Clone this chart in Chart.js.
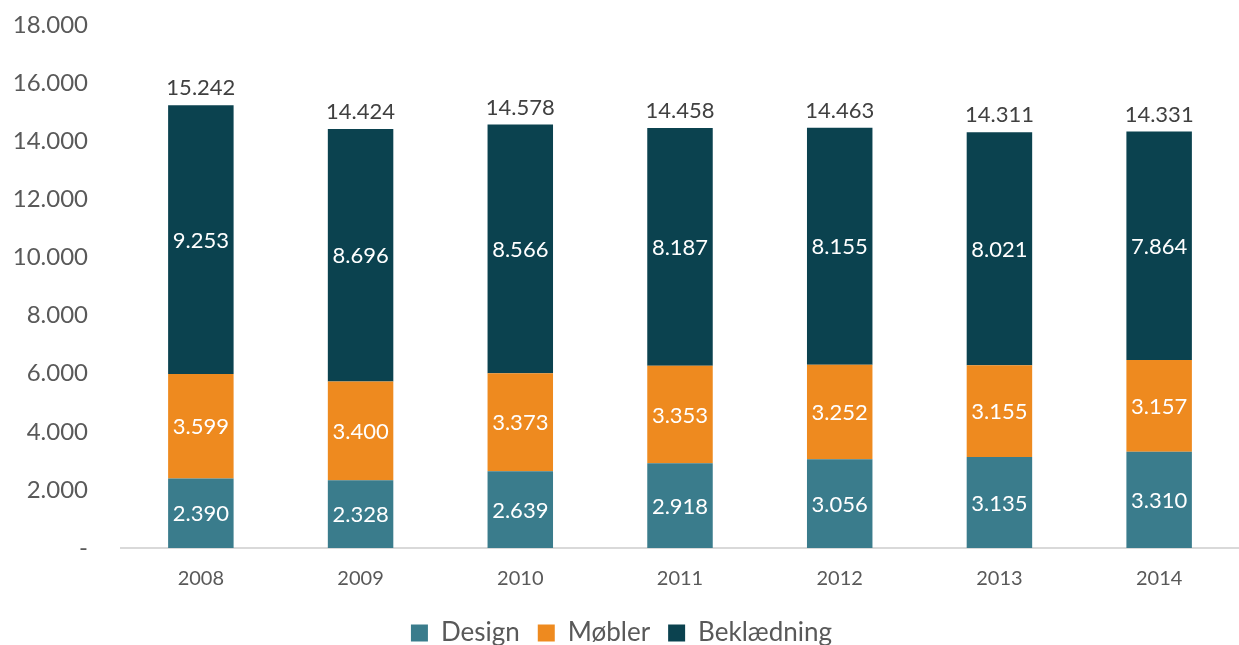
<!DOCTYPE html>
<html>
<head>
<meta charset="utf-8">
<script src="https://cdn.jsdelivr.net/npm/chart.js@4"></script>
<style>
  html, body { margin: 0; padding: 0; overflow: hidden; background: #fff; }
  #wrap { width: 1239px; height: 656px; }
</style>
</head>
<body>
<div id="wrap"><canvas id="chart"></canvas></div>
<script>
// data
const years = ['2008', '2009', '2010', '2011', '2012', '2013', '2014'];
const design = [2390, 2328, 2639, 2918, 3056, 3135, 3310];
const moebler = [3599, 3400, 3373, 3353, 3252, 3155, 3157];
const beklaedning = [9253, 8696, 8566, 8187, 8155, 8021, 7864];
const totals = [15242, 14424, 14578, 14458, 14463, 14311, 14331];

function fmt(v) {
    return v.toString().replace(/\B(?=(\d{3})+(?!\d))/g, '.');
}

// labels inside the segments and totals on top
const valueLabels = {
    id: 'valueLabels',
    afterDatasetsDraw(chart) {
        const ctx = chart.ctx;
        ctx.save();
        ctx.textAlign = 'center';
        ctx.textBaseline = 'middle';
        ctx.font = '22px Lato';
        ctx.fillStyle = '#ffffff';
        chart.data.datasets.forEach((ds, i) => {
            chart.getDatasetMeta(i).data.forEach((bar, j) => {
                const mid = (bar.y + bar.base) / 2;
                ctx.fillText(fmt(ds.data[j]), bar.x, mid + 1);
            });
        });
        const top = chart.getDatasetMeta(2).data;
        ctx.font = '22px Lato';
        ctx.fillStyle = '#404040';
        ctx.textBaseline = 'bottom';
        top.forEach((bar, j) => {
            ctx.fillText(fmt(totals[j]), bar.x, bar.y - 6);
        });
        ctx.restore();
    }
};

new Chart(document.getElementById('chart'), {
    type: 'bar',
    data: {
        labels: years,
        datasets: [
            { label: 'Design', data: design, backgroundColor: '#3a7c8c' },
            { label: 'Møbler', data: moebler, backgroundColor: '#ee8a1f' },
            { label: 'Beklædning', data: beklaedning, backgroundColor: '#0b424f' }
        ]
    },
    options: {
        responsive: true,
        maintainAspectRatio: false,
        animation: false,
        datasets: {
            bar: { barPercentage: 0.41, categoryPercentage: 1 }
        },
        layout: { padding: { top: 25, right: -4, left: 0, bottom: 0 } },
        scales: {
            x: {
                stacked: true,
                grid: { display: false },
                border: { color: '#d9d9d9', width: 2 },
                ticks: { color: '#595959', font: { family: 'Lato', size: 20 }, padding: 11 }
            },
            y: {
                stacked: true,
                min: 0,
                max: 18000,
                grid: { display: false, tickLength: 23 },
                border: { display: false },
                afterFit(scale) { scale.width = 121; },
                ticks: {
                    stepSize: 2000,
                    color: '#595959',
                    font: { family: 'Lato', size: 24 },
                    padding: 10,
                    callback: v => v === 0 ? '-' : fmt(v)
                }
            }
        },
        plugins: {
            legend: {
                position: 'bottom',
                labels: {
                    color: '#595959',
                    font: { family: 'Lato', size: 26 },
                    boxWidth: 17,
                    boxHeight: 17,
                    padding: 18
                }
            },
            tooltip: { enabled: false }
        }
    },
    plugins: [valueLabels]
});
</script>
</body>
</html>
